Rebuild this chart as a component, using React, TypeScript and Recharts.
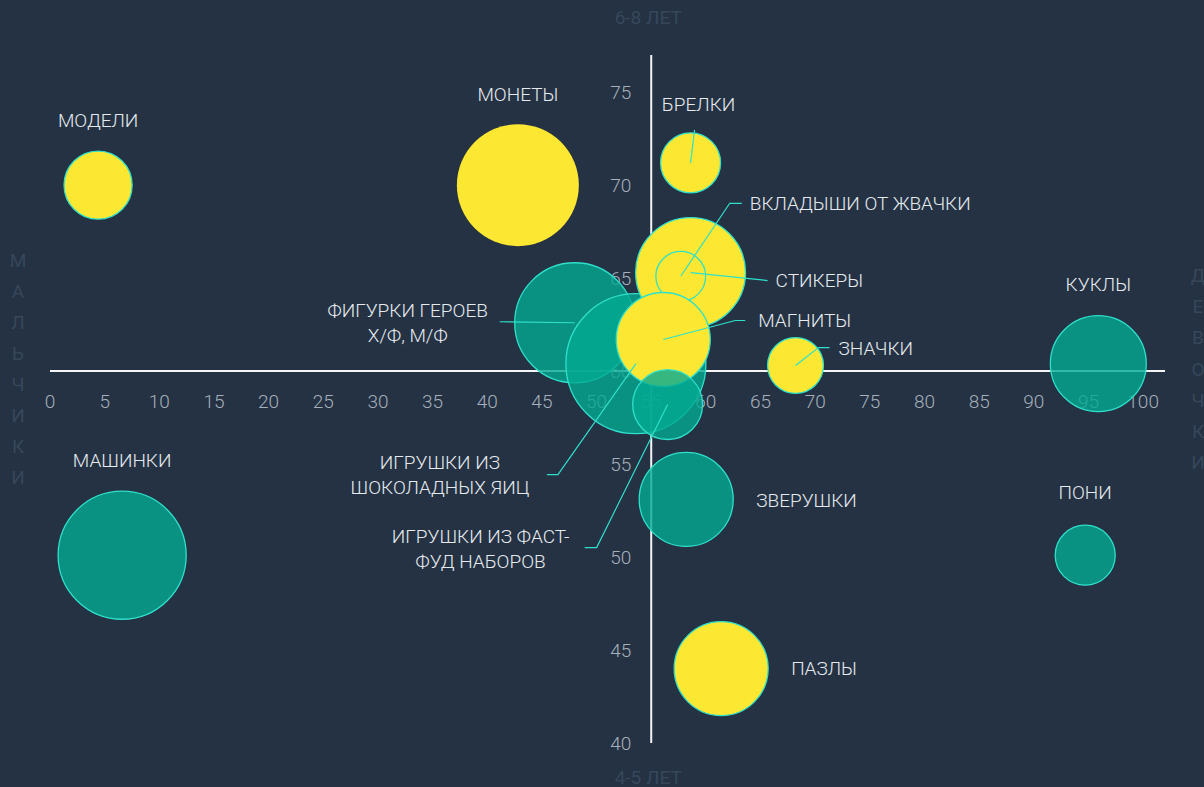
import React from 'react';
import { ScatterChart, Scatter, XAxis, YAxis, ZAxis, ReferenceLine } from 'recharts';

// ---------- data ----------
const names = [
  'МОДЕЛИ', 'МОНЕТЫ', 'БРЕЛКИ', 'ФИГУРКИ ГЕРОЕВ|Х/Ф, М/Ф', 'ИГРУШКИ ИЗ|ШОКОЛАДНЫХ ЯИЦ',
  'СТИКЕРЫ', 'ВКЛАДЫШИ ОТ ЖВАЧКИ', 'МАГНИТЫ', 'ИГРУШКИ ИЗ ФАСТ-|ФУД НАБОРОВ', 'ЗНАЧКИ',
  'КУКЛЫ', 'ПОНИ', 'МАШИНКИ', 'ЗВЕРУШКИ', 'ПАЗЛЫ',
];
const xValues = [4.4, 42.8, 58.6, 48.0, 53.6, 58.6, 57.7, 56.1, 56.5, 68.2, 95.9, 94.7, 6.6, 58.2, 61.4];
const yValues = [70.0, 70.0, 71.2, 62.6, 60.4, 65.3, 65.1, 61.7, 58.2, 60.3, 60.4, 50.1, 50.1, 53.1, 44.0];
const sizes = [116, 372, 90, 360, 490, 302, 62, 221, 122, 78, 230, 90, 410, 221, 221];
const groups = ['collect', 'collect', 'collect', 'play', 'play', 'collect', 'collect', 'collect', 'play', 'collect', 'play', 'play', 'play', 'play', 'collect'];

const xTicks = [0, 5, 10, 15, 20, 25, 30, 35, 40, 45, 50, 55, 60, 65, 70, 75, 80, 85, 90, 95, 100];
const yTicks = [40, 45, 50, 55, 60, 65, 70, 75];

const axisTitles = [
  { x: 55, y: 77, text: '6-8 ЛЕТ', kind: 'top' },
  { x: 55, y: 40, text: '4-5 ЛЕТ', kind: 'bottom' },
  { x: 0, y: 60, text: 'МАЛЬЧИКИ', kind: 'left' },
  { x: 102, y: 60, text: 'ДЕВОЧКИ', kind: 'right' },
];

// ---------- layout / style (not data) ----------
const BG = '#243244';
const YELLOW = '#FCE832';
const TEAL = '#03AA92';
const CYAN = '#2FE0CB';
const LABEL = '#E6EAEE';
const TICK = '#A6B0BA';
const DIM = '#37475A';
const FONT = 'Roboto, "Noto Sans", sans-serif';
const FS = 19;

type Ann = { dx: number; dy: number; anchor: 'start' | 'middle' | 'end'; leader?: [number, number][]; lh?: number };
const annotations: Record<string, Ann> = {
  'МОДЕЛИ': { dx: 0, dy: -65, anchor: 'middle' },
  'МОНЕТЫ': { dx: 0, dy: -91, anchor: 'middle' },
  'БРЕЛКИ': { dx: 8, dy: -58, anchor: 'middle', leader: [[0, 0], [4, -33]] },
  'ФИГУРКИ ГЕРОЕВ|Х/Ф, М/Ф': { dx: -167, dy: -12, anchor: 'middle', leader: [[0, 0], [-75, -1]] },
  'ИГРУШКИ ИЗ|ШОКОЛАДНЫХ ЯИЦ': { dx: -196, dy: 99, anchor: 'middle', leader: [[0, 0], [-78, 111], [-89, 111]] },
  'СТИКЕРЫ': { dx: 85, dy: 8, anchor: 'start', leader: [[0, 0], [77, 8]] },
  'ВКЛАДЫШИ ОТ ЖВАЧКИ': { dx: 69, dy: -73, anchor: 'start', leader: [[0, 0], [49, -73], [61, -73]] },
  'МАГНИТЫ': { dx: 95, dy: -19, anchor: 'start', leader: [[0, 0], [72, -19], [82, -19]] },
  'ИГРУШКИ ИЗ ФАСТ-|ФУД НАБОРОВ': { dx: -187, dy: 132, anchor: 'middle', leader: [[0, 0], [-71, 143], [-83, 143]] },
  'ЗНАЧКИ': { dx: 43, dy: -17, anchor: 'start', leader: [[0, 0], [23, -18], [34, -18]] },
  'КУКЛЫ': { dx: 0, dy: -79, anchor: 'middle' },
  'ПОНИ': { dx: 0, dy: -63, anchor: 'middle' },
  'МАШИНКИ': { dx: 0, dy: -95, anchor: 'middle' },
  'ЗВЕРУШКИ': { dx: 70, dy: 1, anchor: 'start' },
  'ПАЗЛЫ': { dx: 70, dy: 0, anchor: 'start' },
};

const bubbles = names.map((name, i) => ({ name, x: xValues[i], y: yValues[i], z: sizes[i], group: groups[i] }));
const xTickData = xTicks.map((v) => ({ x: v, y: 60, label: String(v) }));
const yTickData = yTicks.map((v) => ({ x: 55, y: v, label: String(v) }));

const Bubble = (props: any) => {
  const { cx, cy, size, payload } = props;
  if (cx == null || cy == null) return null;
  const r = Math.sqrt(Math.max(size, 0) / Math.PI);
  const isYellow = payload.group === 'collect';
  const noStroke = payload.name === 'МОНЕТЫ';
  return (
    <circle
      cx={cx}
      cy={cy}
      r={r}
      fill={isYellow ? YELLOW : TEAL}
      fillOpacity={isYellow ? 1 : 0.8}
      stroke={noStroke ? 'none' : CYAN}
      strokeWidth={1.3}
    />
  );
};

const Annotation = (props: any) => {
  const { cx, cy, payload } = props;
  const a = annotations[payload.name];
  if (!a || cx == null) return null;
  const lines = payload.name.split('|');
  const lh = a.lh ?? 25;
  return (
    <g>
      {a.leader && (
        <polyline
          points={a.leader.map(([px, py]) => `${cx + px},${cy + py}`).join(' ')}
          fill="none"
          stroke={CYAN}
          strokeWidth={1.2}
        />
      )}
      {lines.map((t: string, i: number) => (
        <text
          key={i}
          x={cx + a.dx}
          y={cy + a.dy + i * lh}
          textAnchor={a.anchor}
          dominantBaseline="central"
          fill={LABEL}
          fontFamily={FONT}
          fontWeight={300}
          fontSize={FS}
        >
          {t}
        </text>
      ))}
    </g>
  );
};

const XTick = (props: any) => {
  const { cx, cy, payload } = props;
  return (
    <text x={cx} y={cy + 30} textAnchor="middle" dominantBaseline="central" fill={TICK}
      fontFamily={FONT} fontWeight={300} fontSize={FS}>
      {payload.label}
    </text>
  );
};

const YTick = (props: any) => {
  const { cx, cy, payload } = props;
  return (
    <text x={cx - 20} y={cy} textAnchor="end" dominantBaseline="central" fill={TICK}
      fontFamily={FONT} fontWeight={300} fontSize={FS}>
      {payload.label}
    </text>
  );
};

const AxisTitle = (props: any) => {
  const { cx, cy, payload } = props;
  const common = { fill: DIM, fontFamily: FONT, fontWeight: 400, fontSize: FS } as any;
  if (payload.kind === 'top' || payload.kind === 'bottom') {
    return (
      <text x={cx - 3} y={cy + (payload.kind === 'top' ? -38 : 34)} textAnchor="middle" dominantBaseline="central" {...common}>
        {payload.text}
      </text>
    );
  }
  const letters: string[] = Array.from(payload.text);
  const left = payload.kind === 'left';
  const x0 = cx + (left ? -32 : 33);
  const y0 = cy + (left ? -111 : -96);
  const step = left ? 31 : 31.3;
  return (
    <g>
      {letters.map((ch, i) => (
        <text key={i} x={x0} y={y0 + i * step} textAnchor="middle" dominantBaseline="central" {...common}>
          {ch}
        </text>
      ))}
    </g>
  );
};

export default function App() {
  return (
    <div style={{ position: 'absolute', left: 0, top: 0, width: 1204, height: 787, background: BG }}>
      <ScatterChart width={1204} height={787} margin={{ top: 55, right: 39, bottom: 44, left: 50 }}>
        <XAxis type="number" dataKey="x" domain={[0, 102]} hide />
        <YAxis type="number" dataKey="y" domain={[40, 77]} hide />
        <ZAxis type="number" dataKey="z" domain={[0, 500]} range={[0, 15708]} />
        <ReferenceLine y={60} stroke="#F4F4F4" strokeWidth={2} />
        <ReferenceLine x={55} stroke="#F4F4F4" strokeWidth={2} />
        <Scatter data={axisTitles} shape={AxisTitle} isAnimationActive={false} />
        <Scatter data={xTickData} shape={XTick} isAnimationActive={false} />
        <Scatter data={yTickData} shape={YTick} isAnimationActive={false} />
        <Scatter data={bubbles} shape={Bubble} isAnimationActive={false} />
        <Scatter data={bubbles} shape={Annotation} isAnimationActive={false} />
      </ScatterChart>
    </div>
  );
}
